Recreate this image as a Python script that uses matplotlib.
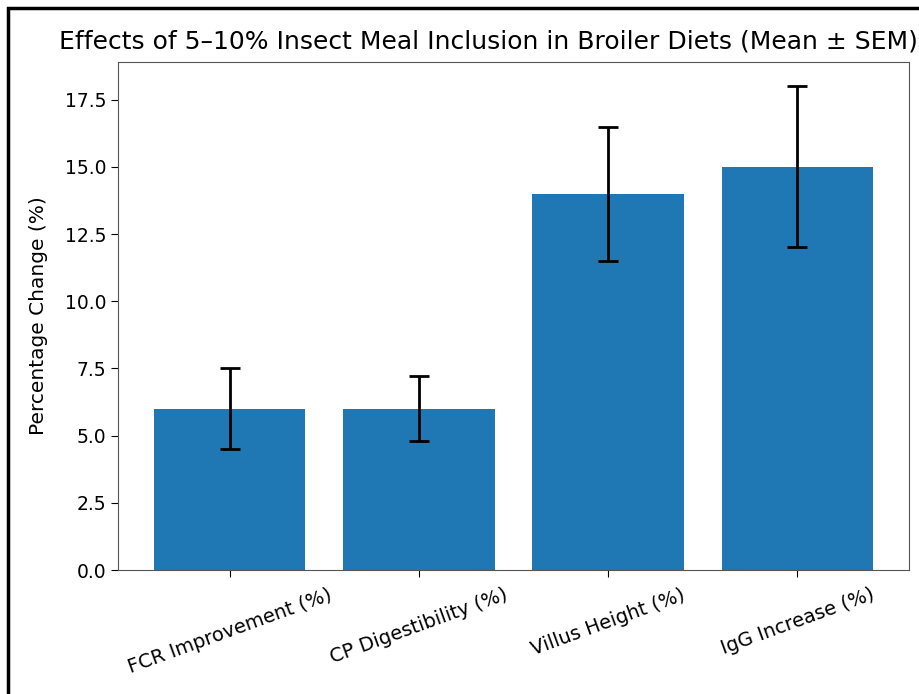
import matplotlib
matplotlib.use('Agg')
import matplotlib.pyplot as plt
from matplotlib.patches import Rectangle

# data
metrics = ['FCR Improvement (%)', 'CP Digestibility (%)', 'Villus Height (%)', 'IgG Increase (%)']
means = [6.0, 6.0, 14.0, 15.0]
sems = [1.5, 1.2, 2.5, 3.0]

fig = plt.figure(figsize=(9.2, 6.94), dpi=100)
ax = fig.add_axes([118/920, 1 - 570/694, (909-118)/920, (570-62)/694])

ax.bar(range(len(metrics)), means, yerr=sems, capsize=7, color='#1f77b4',
       error_kw={'elinewidth': 2, 'capthick': 2})
ax.set_xticks(range(len(metrics)))
ax.set_xticklabels(metrics, rotation=20, ha='center', fontsize=14)
ax.tick_params(axis='y', labelsize=13.5, length=5)
ax.tick_params(axis='x', length=5, pad=6)
ax.set_ylabel('Percentage Change (%)', fontsize=14.5, labelpad=12)
ax.set_title('Effects of 5\u201310% Insect Meal Inclusion in Broiler Diets (Mean \u00b1 SEM)',
             fontsize=18, x=0.468, pad=10)
for s in ax.spines.values():
    s.set_color('#555555')

# screenshot frame (left and top edges only visible)
fig.patches.append(Rectangle((8/920, -0.1), 1.2, 1 - 8/694 + 0.1, transform=fig.transFigure,
                             fill=False, edgecolor='black', linewidth=2.5))

fig.savefig('out.png', dpi=100)
